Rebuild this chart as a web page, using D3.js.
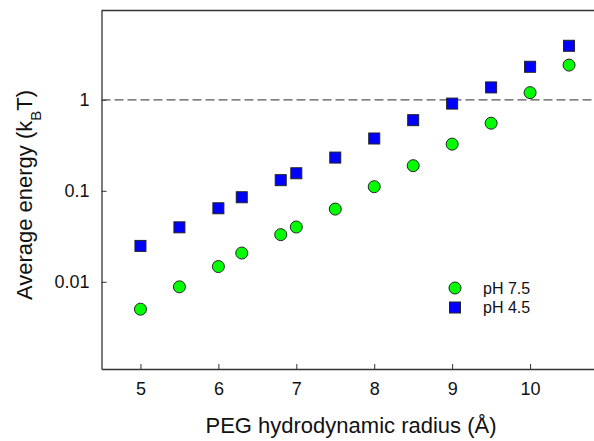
<!DOCTYPE html>
<html>
<head>
<meta charset="utf-8">
<script src="https://cdn.jsdelivr.net/npm/d3@7"></script>
<style>
  body { margin: 0; background: #fff; }
  text { font-family: "Liberation Sans", Arial, sans-serif; fill: #111; }
</style>
</head>
<body>
<div id="chart"></div>
<script>
// PEG hydrodynamic radius (Å)
const radius = [5, 5.5, 6, 6.3, 6.8, 7, 7.5, 8, 8.5, 9, 9.5, 10, 10.5];
// average energy (kBT) at pH 7.5 and pH 4.5
const ph75 = [0.0050, 0.0088, 0.0147, 0.0207, 0.033, 0.040, 0.063, 0.111, 0.189, 0.326, 0.554, 1.20, 2.41];
const ph45 = [0.0248, 0.0397, 0.0643, 0.085, 0.131, 0.156, 0.232, 0.376, 0.598, 0.91, 1.37, 2.31, 3.93];
const xTicks = [5, 6, 7, 8, 9, 10];
const yTicks = [0.01, 0.1, 1];
const legendLabels = ["pH 7.5", "pH 4.5"];

const width = 594, height = 441;
const margin = { left: 101.5, top: 10.5, right: -14, bottom: 72 };

const svg = d3.select("#chart").append("svg")
  .attr("width", width).attr("height", height);

// scales
const x = d3.scaleLinear().domain([4.5, 11])
  .range([margin.left, width - margin.right]);
const y = d3.scaleLog().domain([0.0011, 9.6])
  .range([height - margin.bottom, margin.top]);

const axisColor = "#333";

// top frame line (no right line in view)
svg.append("line").attr("x1", margin.left).attr("x2", width)
  .attr("y1", margin.top).attr("y2", margin.top)
  .attr("stroke", axisColor).attr("stroke-width", 1.3);

// x axis, ticks pointing inward
const xAxis = svg.append("g")
  .attr("transform", `translate(0,${height - margin.bottom})`)
  .call(d3.axisBottom(x).tickValues(xTicks).tickFormat(d3.format("d"))
    .tickSizeInner(-5).tickSizeOuter(0).tickPadding(13));
xAxis.select(".domain").attr("stroke", axisColor).attr("stroke-width", 1.3);
xAxis.selectAll(".tick line").attr("stroke", axisColor);
xAxis.selectAll("text").style("font-size", "18px").attr("fill", "#111")
  .style("font-family", "'Liberation Sans', Arial, sans-serif");

// y axis, ticks pointing inward
const yAxis = svg.append("g")
  .attr("transform", `translate(${margin.left},0)`)
  .call(d3.axisLeft(y).tickValues(yTicks).tickFormat(d3.format("~g"))
    .tickSizeInner(-5).tickSizeOuter(0).tickPadding(12));
yAxis.select(".domain").attr("stroke", axisColor).attr("stroke-width", 1.3);
yAxis.selectAll(".tick line").attr("stroke", axisColor);
yAxis.selectAll("text").style("font-size", "18px").attr("fill", "#111")
  .style("font-family", "'Liberation Sans', Arial, sans-serif");

// dashed reference line at 1 kBT
svg.append("line")
  .attr("x1", margin.left).attr("x2", width)
  .attr("y1", y(1)).attr("y2", y(1))
  .attr("stroke", "#555").attr("stroke-width", 1.2)
  .attr("stroke-dasharray", "9,4");

// series
const green = radius.map((r, i) => ({ r, v: ph75[i] }));
const blue = radius.map((r, i) => ({ r, v: ph45[i] }));

svg.append("g").selectAll("rect")
  .data(blue).join("rect")
  .attr("x", d => x(d.r) - 5.5).attr("y", d => y(d.v) - 5.5)
  .attr("width", 11).attr("height", 11)
  .attr("fill", "#0000ff").attr("stroke", "#222").attr("stroke-width", 1);

svg.append("g").selectAll("circle")
  .data(green).join("circle")
  .attr("cx", d => x(d.r)).attr("cy", d => y(d.v)).attr("r", 6)
  .attr("fill", "#00ff00").attr("stroke", "#222").attr("stroke-width", 1);

// legend
const legend = svg.append("g").attr("transform", "translate(455,288)");
legend.append("circle").attr("cx", 0).attr("cy", 0).attr("r", 6)
  .attr("fill", "#00ff00").attr("stroke", "#222");
legend.append("rect").attr("x", -5.5).attr("y", 19.5 - 5.5)
  .attr("width", 11).attr("height", 11)
  .attr("fill", "#0000ff").attr("stroke", "#222");
legend.selectAll("text").data(legendLabels).join("text")
  .attr("x", 28).attr("y", (d, i) => i * 19.5).attr("dy", "0.35em")
  .style("font-size", "16px").text(d => d);

// axis titles
svg.append("text")
  .attr("x", 351).attr("y", 433)
  .attr("text-anchor", "middle")
  .style("font-size", "22px")
  .text("PEG hydrodynamic radius (Å)");

const yTitle = svg.append("text")
  .attr("transform", "translate(32,195) rotate(-90)")
  .attr("text-anchor", "middle")
  .style("font-size", "22px");
yTitle.append("tspan").text("Average energy (k");
yTitle.append("tspan").attr("baseline-shift", "sub").style("font-size", "15px").text("B");
yTitle.append("tspan").text("T)");
</script>
</body>
</html>
